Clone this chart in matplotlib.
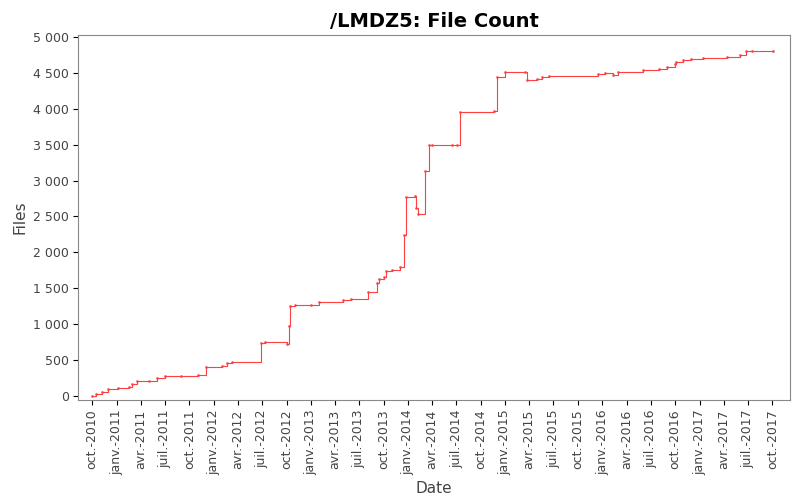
import numpy as np
import pandas as pd
import matplotlib
matplotlib.use("Agg")
import matplotlib.pyplot as plt
import matplotlib.ticker as mticker

# step data
dates = ["2010-10-01", "2010-10-15", "2010-11-05", "2010-12-01", "2011-01-05", "2011-02-15",
         "2011-03-01", "2011-03-20", "2011-05-01", "2011-06-01", "2011-07-01", "2011-09-01",
         "2011-11-01", "2011-12-01", "2012-02-01", "2012-02-20", "2012-03-10", "2012-06-28",
         "2012-07-10", "2012-10-01", "2012-10-08", "2012-10-15", "2012-11-01", "2013-01-01",
         "2013-02-01", "2013-05-01", "2013-06-01", "2013-08-01", "2013-09-05", "2013-09-15",
         "2013-10-01", "2013-10-10", "2013-11-01", "2013-12-01", "2013-12-18", "2013-12-22",
         "2014-01-25", "2014-02-01", "2014-02-08", "2014-03-05", "2014-03-20", "2014-04-01",
         "2014-06-15", "2014-07-05", "2014-07-15", "2014-11-20", "2014-12-01", "2015-01-01",
         "2015-03-15", "2015-03-25", "2015-05-01", "2015-05-20", "2015-06-15", "2015-12-15",
         "2016-01-10", "2016-02-10", "2016-03-01", "2016-06-01", "2016-08-01", "2016-09-01",
         "2016-10-01", "2016-10-05", "2016-11-01", "2016-12-01", "2017-01-15", "2017-04-15",
         "2017-06-01", "2017-06-25", "2017-07-15", "2017-10-05"]
counts = [0, 20, 50, 100, 110, 120,
          160, 200, 210, 250, 270, 280,
          290, 400, 420, 450, 470, 740,
          750, 720, 970, 1250, 1260, 1270,
          1310, 1330, 1350, 1440, 1570, 1630,
          1650, 1740, 1750, 1800, 2240, 2770,
          2780, 2620, 2540, 3140, 3490, 3500,
          3490, 3500, 3960, 3970, 4440, 4510,
          4510, 4400, 4420, 4440, 4460, 4480,
          4500, 4470, 4520, 4540, 4560, 4580,
          4620, 4660, 4680, 4700, 4710, 4730,
          4750, 4800, 4810, 4810]

months_fr = {1: "janv.", 4: "avr.", 7: "juil.", 10: "oct."}
tick_dates = pd.date_range("2010-10-01", "2017-10-01", freq="QS-OCT")
tick_labels = [f"{months_fr[d.month]}-{d.year}" for d in tick_dates]

x = pd.to_datetime(dates)

fig, ax = plt.subplots(figsize=(8, 5), dpi=100)
fig.subplots_adjust(left=0.098, right=0.987, top=0.93, bottom=0.2)
ax.step(x, counts, where="post", color="#ff4040", lw=0.8)
ax.plot(x, counts, ls="none", marker="s", ms=0.8, color="#ff4040")

ax.set_xlim(pd.Timestamp("2010-08-10"), pd.Timestamp("2017-12-05"))
ax.set_ylim(-60, 5030)
ax.set_xticks(tick_dates)
ax.set_xticklabels(tick_labels, rotation=90, fontsize=9, color="#444444")
ax.yaxis.set_major_locator(mticker.MultipleLocator(500))
ax.yaxis.set_major_formatter(mticker.FuncFormatter(lambda v, p: f"{int(v):,}".replace(",", " ")))
ax.tick_params(axis="y", labelsize=9, labelcolor="#444444")
for s in ax.spines.values():
    s.set_color("#888888")
ax.set_xlabel("Date", fontsize=11, color="#444444")
ax.set_ylabel("Files", fontsize=11, color="#444444")
ax.set_title("/LMDZ5: File Count", fontsize=14, fontweight="bold")
fig.savefig("out.png")
